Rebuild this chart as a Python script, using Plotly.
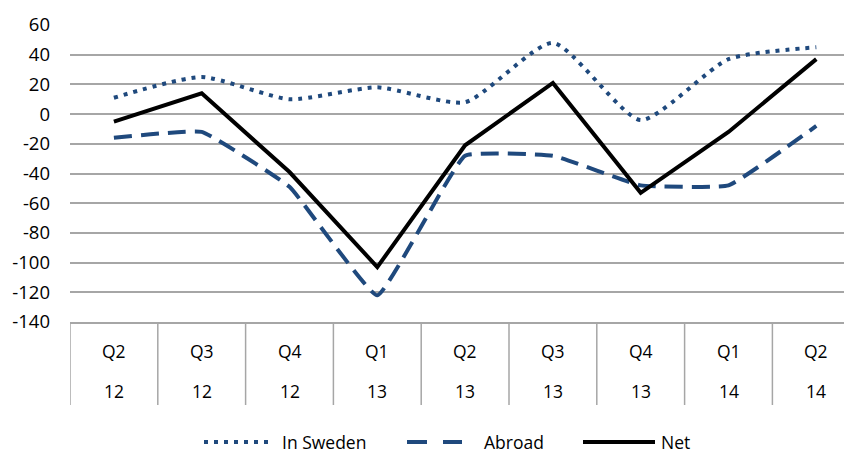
import plotly.graph_objects as go

quarters = ["Q2", "Q3", "Q4", "Q1", "Q2", "Q3", "Q4", "Q1", "Q2"]
years = ["12", "12", "12", "13", "13", "13", "13", "14", "14"]
in_sweden = [11, 25, 10, 18, 8, 48, -4, 37, 45]
abroad = [-16, -12, -49, -122, -28, -28, -48, -48, -8]
net = [-5, 14, -39, -103, -21, 21, -53, -12, 37]
y_ticks = [60, 40, 20, 0, -20, -40, -60, -80, -100, -120, -140]

BLUE = "#1F497D"
GRID = "#A6A6A6"
FONT = "Open Sans"

OFF = 8  # page body margin
W, H = 852 - OFF, 454 - OFF
ML, MR, MT, MB = 70 - OFF, 0, 25 - OFF, 132
PW, PH = W - ML - MR, H - MT - MB

idx = list(range(len(quarters)))

fig = go.Figure()
fig.add_trace(go.Scatter(x=idx, y=in_sweden, mode="lines", name="In Sweden",
                         line=dict(color=BLUE, width=4, dash="4px,6px", shape="spline", smoothing=0.6)))
fig.add_trace(go.Scatter(x=idx, y=abroad, mode="lines", name="Abroad",
                         line=dict(color=BLUE, width=4, dash="18px,9px", shape="spline", smoothing=0.3)))
fig.add_trace(go.Scatter(x=idx, y=net, mode="lines", name="Net",
                         line=dict(color="black", width=4)))

def py(pix):
    return -(pix - OFF - (MT + PH)) / PH

def px(pix):
    return (pix - OFF - ML) / PW

shapes = []
annotations = []
# category table
x_right = -0.5 + (PW) / 87.8
for k in range(len(quarters) + 1):
    xv = k - 0.5
    if xv <= x_right:
        shapes.append(dict(type="line", xref="x", yref="paper", x0=xv, x1=xv,
                           y0=0, y1=py(405), line=dict(color=GRID, width=1.5)))
for i, (q, yr) in enumerate(zip(quarters, years)):
    annotations.append(dict(x=i, y=py(351), xref="x", yref="paper", text=q, showarrow=False,
                            xanchor="center", yanchor="middle", font=dict(size=17.5, family=FONT, color="black")))
    annotations.append(dict(x=i, y=py(391), xref="x", yref="paper", text=yr, showarrow=False,
                            xanchor="center", yanchor="middle", font=dict(size=17.5, family=FONT, color="black")))

# legend
leg_y = py(442)
legend_items = [
    ("In Sweden", dict(color=BLUE, width=4, dash="4px,6px"), 204, 270, 280),
    ("Abroad", dict(color=BLUE, width=4, dash="20px,16px"), 407, 462, 482),
    ("Net", dict(color="black", width=4), 583, 655, 659),
]
for name, ln, a, b, t in legend_items:
    shapes.append(dict(type="line", xref="paper", yref="paper", x0=px(a), x1=px(b),
                       y0=leg_y, y1=leg_y, line=ln))
    annotations.append(dict(x=px(t), y=leg_y, xref="paper", yref="paper", text=name, showarrow=False,
                            xanchor="left", yanchor="middle", font=dict(size=17.5, family=FONT, color="black")))

fig.update_layout(
    width=W, height=H,
    margin=dict(l=ML, r=MR, t=MT, b=MB),
    paper_bgcolor="white", plot_bgcolor="white",
    showlegend=False,
    shapes=shapes, annotations=annotations,
    font=dict(family=FONT, size=18, color="black"),
    xaxis=dict(range=[-0.5, x_right], showticklabels=False, showgrid=False, zeroline=False,
               showline=True, linecolor=GRID, linewidth=1.5, fixedrange=True),
    yaxis=dict(range=[-140, 60], tickvals=y_ticks, ticktext=[str(v) for v in y_ticks],
               showgrid=True, gridcolor=GRID, gridwidth=1.5, zeroline=False, showline=False,
               ticks="", ticklabelstandoff=19, tickfont=dict(size=18.5, family=FONT, color="black")),
)
fig.write_html("out.html")
